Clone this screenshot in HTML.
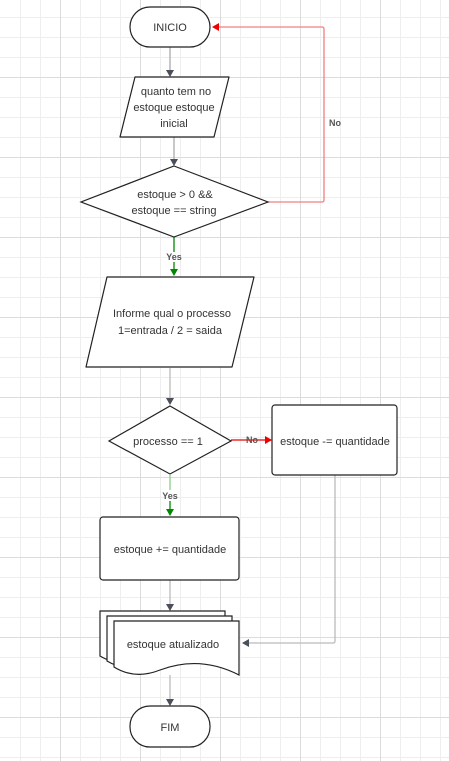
<!DOCTYPE html>
<html><head><meta charset="utf-8"><style>
body{margin:0;background:#fff}
svg{display:block}
text{font-family:"Liberation Sans",sans-serif;font-size:11px;fill:#333;text-anchor:middle}
</style></head><body>
<svg width="449" height="761" viewBox="0 0 449 761" xmlns="http://www.w3.org/2000/svg">
<defs>
<marker id="ag" markerWidth="8" markerHeight="8" refX="6" refY="4" orient="auto" markerUnits="userSpaceOnUse"><path d="M0 0L7 4L0 8Z" fill="#4a4f5a"/></marker>
<marker id="ar" markerWidth="8" markerHeight="8" refX="6" refY="4" orient="auto" markerUnits="userSpaceOnUse"><path d="M0 0L7 4L0 8Z" fill="#e00"/></marker>
<marker id="agr" markerWidth="8" markerHeight="8" refX="6" refY="4" orient="auto" markerUnits="userSpaceOnUse"><path d="M0 0L7 4L0 8Z" fill="#080"/></marker>
</defs>
<g stroke="#eeeeee" stroke-width="1">
<path d="M20.5 0V761M40.5 0V761M80.5 0V761M100.5 0V761M120.5 0V761M160.5 0V761M180.5 0V761M200.5 0V761M240.5 0V761M260.5 0V761M280.5 0V761M320.5 0V761M340.5 0V761M360.5 0V761M400.5 0V761M420.5 0V761M440.5 0V761"/>
<path d="M0 17.5H449M0 37.5H449M0 57.5H449M0 97.5H449M0 117.5H449M0 137.5H449M0 177.5H449M0 197.5H449M0 217.5H449M0 257.5H449M0 277.5H449M0 297.5H449M0 337.5H449M0 357.5H449M0 377.5H449M0 417.5H449M0 437.5H449M0 457.5H449M0 497.5H449M0 517.5H449M0 537.5H449M0 577.5H449M0 597.5H449M0 617.5H449M0 657.5H449M0 677.5H449M0 697.5H449M0 737.5H449M0 757.5H449"/>
</g>
<g stroke="#dcdcdc" stroke-width="1">
<path d="M60.5 0V761M140.5 0V761M220.5 0V761M300.5 0V761M380.5 0V761"/>
<path d="M0 77.5H449M0 157.5H449M0 237.5H449M0 317.5H449M0 397.5H449M0 477.5H449M0 557.5H449M0 637.5H449M0 717.5H449"/>
</g>

<g fill="none" stroke-width="1.3">
<path d="M170 47V76" stroke="#aaa" marker-end="url(#ag)"/>
<path d="M174 137V165" stroke="#aaa" marker-end="url(#ag)"/>
<path d="M268 202H322Q324 202 324 200V29Q324 27 322 27H213" stroke="#f08080" marker-end="url(#ar)"/>
<path d="M174 237V252" stroke="#080"/>
<path d="M174 262V275" stroke="#080" marker-end="url(#agr)"/>
<path d="M170 368V404" stroke="#bbb" marker-end="url(#ag)"/>
<path d="M231 440H271" stroke="#e00" marker-end="url(#ar)"/>
<path d="M170 475V490" stroke="#8c8"/>
<path d="M170 501V515" stroke="#080" marker-end="url(#agr)"/>
<path d="M335 475V641Q335 643 333 643H243" stroke="#bbb" marker-end="url(#ag)"/>
<path d="M170 580V610" stroke="#bbb" marker-end="url(#ag)"/>
<path d="M170 675V705" stroke="#bbb" marker-end="url(#ag)"/>
</g>

<g fill="#fff" stroke="#222" stroke-width="1.2">
<rect x="130" y="7" width="80" height="40" rx="20"/>
<path d="M135 77H229L214 137H120Z" stroke-linejoin="round"/>
<path d="M174 166L268 202L174 237L81 202Z"/>
<path d="M107 277H254L232 367H86Z" stroke-linejoin="round"/>
<path d="M170 406L231 441L170 474L109 441Z"/>
<rect x="272" y="405" width="125" height="70" rx="3"/>
<rect x="100" y="517" width="139" height="63" rx="3"/>
<path d="M100 611H225V660Q180 640 145 660Q120 668 100 656Z"/>
<path d="M107 616H232V665Q187 645 152 665Q127 673 107 661Z"/>
<path d="M114 621H239V675Q200 655 160 670Q135 680 114 667Z"/>
<rect x="130" y="706" width="80" height="41" rx="20"/>
</g>

<text x="170" y="31">INICIO</text>
<text x="176" y="95">quanto tem no</text>
<text x="174" y="111">estoque estoque</text>
<text x="174" y="127">inicial</text>
<text x="175" y="198">estoque &gt; 0 &amp;&amp;</text>
<text x="174" y="214">estoque == string</text>
<text x="335" y="126" style="font-weight:bold;font-size:9px;fill:#555">No</text>
<text x="174" y="260" style="font-weight:bold;font-size:9px;fill:#555">Yes</text>
<text x="172" y="317">Informe qual o processo</text>
<text x="170" y="334">1=entrada / 2 = saida</text>
<text x="168" y="445">processo == 1</text>
<text x="252" y="443" style="font-weight:bold;font-size:9px;fill:#555">No</text>
<text x="335" y="445">estoque -= quantidade</text>
<text x="170" y="499" style="font-weight:bold;font-size:9px;fill:#555">Yes</text>
<text x="170" y="553">estoque += quantidade</text>
<text x="173" y="648">estoque atualizado</text>
<text x="170" y="731">FIM</text>
</svg>
</body></html>
